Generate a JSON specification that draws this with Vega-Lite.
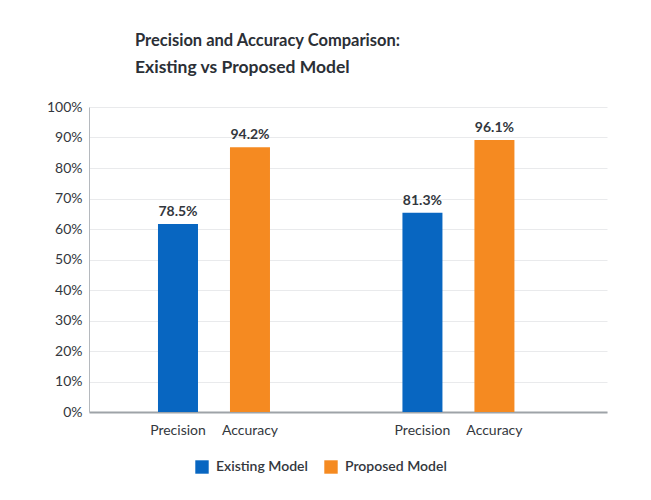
{
  "$schema": "https://vega.github.io/schema/vega-lite/v6.json",
  "width": 518,
  "height": 305,
  "autosize": {"type": "none"},
  "padding": {"left": 89, "top": 107, "right": 44, "bottom": 88},
  "background": "white",
  "config": {
    "font": "Lato",
    "view": {"stroke": null},
    "axisY": {
      "title": null,
      "labelFontSize": 14,
      "labelColor": "#33373d",
      "labelPadding": 7,
      "ticks": false,
      "domainColor": "#b5b9be",
      "gridColor": "#e9eaec",
      "gridWidth": 1
    }
  },
  "title": {
    "text": "Precision and Accuracy Comparison:",
    "subtitle": "Existing vs Proposed Model",
    "anchor": "start",
    "frame": "group",
    "dx": 46,
    "fontSize": 16.5,
    "fontWeight": "bold",
    "color": "#2b2f36",
    "subtitleFontSize": 17.5,
    "subtitleFontWeight": "bold",
    "subtitleColor": "#2b2f36",
    "subtitlePadding": 9,
    "offset": 24
  },
  "data": {
    "values": [
      {"group": "Existing", "metric": "Precision", "series": "Existing Model", "height": 61.6, "label": "78.5%"},
      {"group": "Existing", "metric": "Accuracy", "series": "Proposed Model", "height": 86.8, "label": "94.2%"},
      {"group": "Proposed", "metric": "Precision", "series": "Existing Model", "height": 65.3, "label": "81.3%"},
      {"group": "Proposed", "metric": "Accuracy", "series": "Proposed Model", "height": 89.2, "label": "96.1%"}
    ]
  },
  "encoding": {
    "x": {
      "field": "group",
      "type": "nominal",
      "scale": {"domain": ["Existing", "Proposed"], "paddingInner": 0.411, "paddingOuter": 0.265, "align": 0.409},
      "axis": {"labels": false, "ticks": false, "title": null, "domainColor": "#9ea3a8", "domainWidth": 2}
    },
    "xOffset": {
      "field": "metric",
      "type": "nominal",
      "scale": {"domain": ["Precision", "Accuracy"], "paddingInner": 0, "paddingOuter": 0}
    }
  },
  "layer": [
    {
      "mark": {"type": "bar", "width": 40},
      "encoding": {
        "y": {
          "field": "height",
          "type": "quantitative",
          "scale": {"domain": [0, 100], "nice": false},
          "axis": {"values": [0, 10, 20, 30, 40, 50, 60, 70, 80, 90, 100], "labelExpr": "datum.value + '%'"}
        },
        "color": {
          "field": "series",
          "type": "nominal",
          "scale": {"domain": ["Existing Model", "Proposed Model"], "range": ["#0866c1", "#f58a21"]},
          "legend": {
            "title": null,
            "orient": "none",
            "direction": "horizontal",
            "legendX": 106,
            "legendY": 353,
            "symbolType": "square",
            "symbolSize": 180,
            "symbolStrokeWidth": 0,
            "labelFontSize": 14,
            "labelFontWeight": 600,
            "labelColor": "#33373d",
            "columnPadding": 16,
            "labelOffset": 7
          }
        }
      }
    },
    {
      "mark": {"type": "text", "baseline": "bottom", "dy": -5, "fontSize": 14, "fontWeight": "bold", "color": "#33373d"},
      "encoding": {
        "y": {
          "field": "height",
          "type": "quantitative",
          "axis": {"values": [0, 10, 20, 30, 40, 50, 60, 70, 80, 90, 100], "labelExpr": "datum.value + '%'"}
        },
        "text": {"field": "label"}
      }
    },
    {
      "mark": {"type": "text", "baseline": "middle", "dy": 19, "fontSize": 14, "color": "#33373d"},
      "encoding": {
        "y": {
          "datum": 0,
          "type": "quantitative",
          "axis": {"values": [0, 10, 20, 30, 40, 50, 60, 70, 80, 90, 100], "labelExpr": "datum.value + '%'"}
        },
        "text": {"field": "metric"}
      }
    }
  ]
}
